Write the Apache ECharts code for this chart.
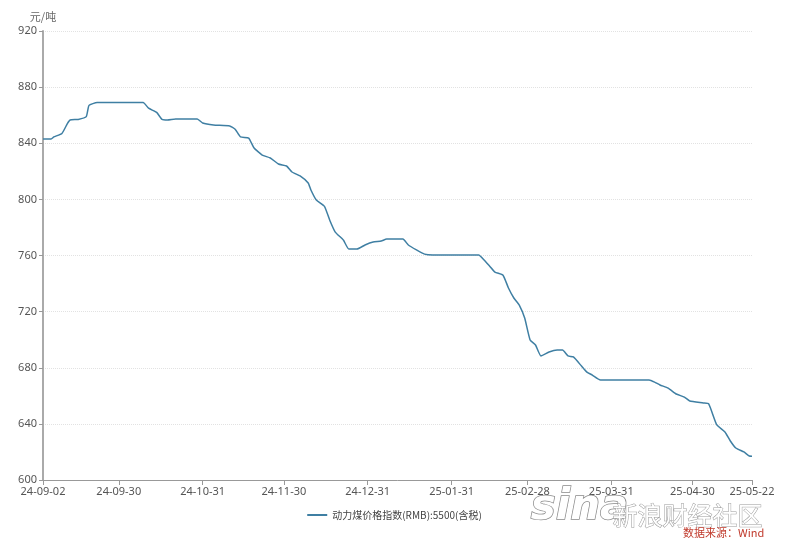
<!DOCTYPE html>
<html>
<head>
<meta charset="utf-8">
<script src="https://cdn.jsdelivr.net/npm/echarts@6/dist/echarts.min.js"></script>
<style>
html,body{margin:0;padding:0;background:#fff;}
#main{width:789px;height:549px;}
</style>
</head>
<body>
<div id="main"></div>
<script>
var sampleDates = ['24-09-02','24-09-05','24-09-06','24-09-09','24-09-11','24-09-12','24-09-15','24-09-18','24-09-19','24-09-22',
  '24-10-09','24-10-11','24-10-14','24-10-16','24-10-18','24-10-21','24-10-29','24-10-31','24-11-04','24-11-10',
  '24-11-12','24-11-14','24-11-17','24-11-19','24-11-22','24-11-25','24-11-28','24-12-01','24-12-03','24-12-06',
  '24-12-09','24-12-10','24-12-12','24-12-15','24-12-17','24-12-19','24-12-22','24-12-24','24-12-27','24-12-30',
  '25-01-02','25-01-05','25-01-07','25-01-13','25-01-15','25-01-18','25-01-21','25-01-24','25-02-10','25-02-12',
  '25-02-14','25-02-16','25-02-19','25-02-21','25-02-23','25-02-25','25-02-27','25-03-01','25-03-03','25-03-05',
  '25-03-08','25-03-11','25-03-13','25-03-15','25-03-17','25-03-20','25-03-22','25-03-24','25-03-27','25-04-14',
  '25-04-16','25-04-18','25-04-21','25-04-24','25-04-27','25-04-29','25-05-04','25-05-06','25-05-09','25-05-12',
  '25-05-14','25-05-16','25-05-19','25-05-21','25-05-22'];
var sampleValues = [843,843,844.5,847,854,856.6,857,859,867,869,
  869,865,862,857,856.6,857.3,857.3,854.4,853,852.3,
  850,844.5,843.7,836.6,831.6,829.5,825.2,823.8,819.5,816.7,
  811.7,806.7,799.5,795,785,776.7,771,764.6,764.6,767.5,
  769.6,770.3,771.7,771.7,767.5,764,761,760.4,760.4,756.8,
  752.5,748.2,746,736.8,729.7,724.7,715.4,699.8,696.2,688.4,
  691.2,692.6,692.6,688.4,687.7,681.2,676.9,674.8,671.3,671.3,
  669.8,667.7,665.5,661.3,659.1,656.3,654.9,654.2,639.2,634.2,
  627.8,622.8,620,617.1,617];
var tickLabels = ['24-09-02','24-09-30','24-10-31','24-11-30','24-12-31','25-01-31','25-02-28','25-03-31','25-04-30','25-05-22'];
var seriesName = '动力煤价格指数(RMB):5500(含税)';
var yMin = 600, yMax = 920, yStep = 40;

// Category list: every calendar day from first to last date
function fmt(d){
  var y = String(d.getUTCFullYear()).slice(2);
  var m = ('0'+(d.getUTCMonth()+1)).slice(-2);
  var dd = ('0'+d.getUTCDate()).slice(-2);
  return y+'-'+m+'-'+dd;
}
var categories = [];
var cur = new Date(Date.UTC(2024,8,2)), end = new Date(Date.UTC(2025,4,22));
while (cur <= end) { categories.push(fmt(cur)); cur = new Date(cur.getTime()+86400000); }

var seriesData = sampleDates.map(function(d,i){ return [d, sampleValues[i]]; });
var showIdx = function(i, v){ return tickLabels.indexOf(v) >= 0; };

var chart = echarts.init(document.getElementById('main'));
chart.setOption({
  backgroundColor:'#fff',
  animation:false,
  grid:{left:43, right:37, top:31, bottom:69, containLabel:false},
  xAxis:{
    type:'category', data:categories, boundaryGap:false,
    axisLine:{lineStyle:{color:'#999', width:1}},
    axisTick:{interval:showIdx, length:5, lineStyle:{color:'#999'}},
    axisLabel:{interval:showIdx, color:'#555', fontSize:11, fontFamily:'Noto Sans', margin:6},
    splitLine:{show:false}
  },
  yAxis:{
    type:'value', min:yMin, max:yMax, interval:yStep,
    name:'元/吨', nameLocation:'end', nameGap:9,
    nameTextStyle:{color:'#666', fontSize:11, fontFamily:'Noto Sans CJK SC', align:'center'},
    axisLine:{show:true, lineStyle:{color:'#aaa', width:2}},
    axisTick:{show:true, length:4, lineStyle:{color:'#999'}},
    axisLabel:{color:'#555', fontSize:11, fontFamily:'Noto Sans', margin:6},
    splitLine:{show:true, lineStyle:{color:'#e2e2e2', type:'dotted'}}
  },
  legend:{
    bottom:24, left:'center', itemWidth:20, itemHeight:8, itemGap:10,
    textStyle:{color:'#444', fontSize:10, fontFamily:'Noto Sans CJK SC'},
    data:[{name:seriesName, icon:'path://M0,4 L20,4 L20,6 L0,6 Z'}]
  },
  series:[{
    name:seriesName, type:'line', data:seriesData, symbol:'none', smooth:0.15,
    lineStyle:{color:'#3f7fa3', width:1.5}, itemStyle:{color:'#3f7fa3'}
  }],
  graphic:[
    {type:'text', left:530, top:486, z:100, style:{text:'sina', font:'italic bold 42px "DejaVu Sans"', fill:'#ffffff', stroke:'#8a8a8a', lineWidth:1.5}},
    {type:'text', left:612, top:502, z:100, style:{text:'新浪财经社区', font:'25px "Noto Sans CJK SC"', fill:'#ffffff', stroke:'#9a9a9a', lineWidth:1}},
    {type:'text', left:683, top:527, z:101, style:{text:'数据来源：Wind', font:'11px "Noto Sans CJK SC"', fill:'#c0392b'}}
  ]
});
</script>
</body>
</html>
